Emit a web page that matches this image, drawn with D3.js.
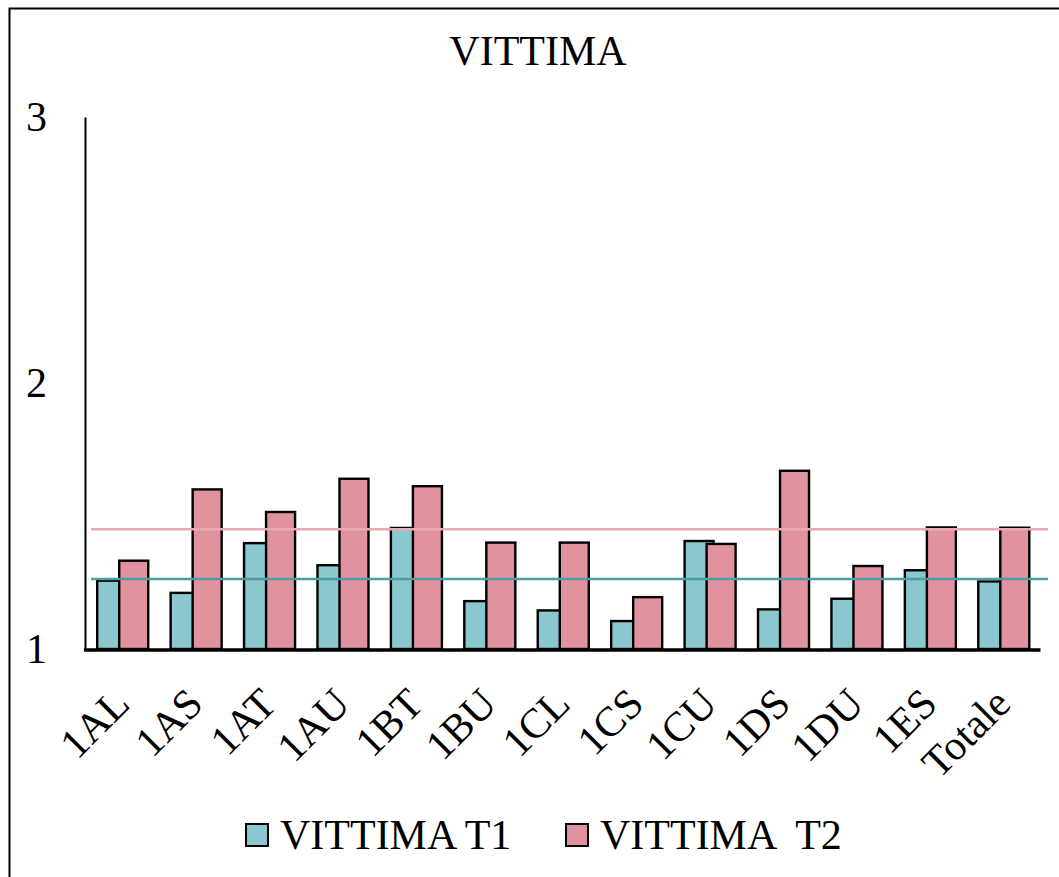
<!DOCTYPE html>
<html>
<head>
<meta charset="utf-8">
<script src="https://cdn.jsdelivr.net/npm/d3@7"></script>
<style>
  html, body { margin: 0; padding: 0; background: #fff; }
  svg { display: block; }
  text { font-family: "Liberation Serif", "Times New Roman", serif; fill: #000; }
</style>
</head>
<body>
<script>
// ---- data ----
const categories = ["1AL","1AS","1AT","1AU","1BT","1BU","1CL","1CS","1CU","1DS","1DU","1ES","Totale"];
const seriesT1 = [1.257,1.211,1.398,1.315,1.455,1.180,1.145,1.105,1.406,1.149,1.189,1.296,1.254];
const seriesT2 = [1.332,1.600,1.515,1.640,1.612,1.400,1.400,1.195,1.395,1.670,1.312,1.457,1.456];
const averages = [1.263, 1.450];           // reference lines for T1, T2
const yTicks = [1, 2, 3];
const seriesNames = ["VITTIMA T1", "VITTIMA  T2"];
const title = "VITTIMA";

// ---- layout ----
const W = 1059, H = 877;
const plot = { left: 86, right: 1040.5, top: 117, bottom: 649 };
const colors = ["#8BC7CE", "#E0939E"];
const lineColors = ["#4E9DA3", "#E9AAB5"];

const svg = d3.select("body").append("svg").attr("width", W).attr("height", H);

// frame
svg.append("rect").attr("x", 9.5).attr("y", 8.5).attr("width", W + 20).attr("height", H + 20)
  .attr("fill", "none").attr("stroke", "#000").attr("stroke-width", 2);

const x = d3.scaleBand().domain(categories).range([plot.left, plot.right]).paddingInner(0).paddingOuter(0);
const y = d3.scaleLinear().domain([1, 3]).range([plot.bottom, plot.top]);

const step = x.bandwidth();
const barW = step * 0.395;      // ~29px
const shift = step * 0.30;      // ~22px offset for overlapping second bar
const groupW = shift + barW;
const off = (step - groupW) / 2;

// title
svg.append("text").attr("x", 538).attr("y", 65).attr("text-anchor", "middle")
  .attr("font-size", 42).text(title);

// bars: T1 first, T2 overlapping on top
[seriesT1, seriesT2].forEach((vals, si) => {
  svg.append("g").selectAll("rect").data(categories).join("rect")
    .attr("x", c => x(c) + off + si * shift)
    .attr("y", (c, i) => y(vals[i]))
    .attr("width", barW)
    .attr("height", (c, i) => y(1) - y(vals[i]))
    .attr("fill", colors[si])
    .attr("stroke", "#000")
    .attr("stroke-width", 2.4);
});

// average lines
averages.forEach((v, i) => {
  svg.append("line").attr("x1", 91).attr("x2", 1048)
    .attr("y1", y(v)).attr("y2", y(v))
    .attr("stroke", lineColors[i]).attr("stroke-width", 2.5);
});

// y axis
const yAxis = d3.axisLeft(y).tickValues(yTicks).tickSize(0).tickPadding(38).tickFormat(d3.format("d"));
const gy = svg.append("g").attr("transform", `translate(${plot.left - 1},0)`).call(yAxis);
gy.select(".domain").attr("stroke", "#000").attr("stroke-width", 2);
gy.selectAll("text").attr("font-size", 42)
  .attr("font-family", '"Liberation Serif", "Times New Roman", serif')
  .attr("dy", "0.33em");

// x axis
const xAxis = d3.axisBottom(x).tickSize(0).tickPadding(0);
const gx = svg.append("g").attr("transform", `translate(0,${plot.bottom + 1})`).call(xAxis);
gx.select(".domain").attr("stroke", "#000").attr("stroke-width", 3.5)
  .attr("d", `M${plot.left - 2},0H${plot.right}`);
gx.selectAll(".tick text")
  .attr("font-size", 42)
  .attr("font-family", '"Liberation Serif", "Times New Roman", serif')
  .attr("text-anchor", "end")
  .attr("dy", 0)
  .attr("y", 0)
  .attr("transform", "translate(9,56) rotate(-45)");

// legend
const legX = [246, 566], textX = [280, 600];
seriesNames.forEach((n, i) => {
  svg.append("rect").attr("x", legX[i]).attr("y", 824).attr("width", 22).attr("height", 22)
    .attr("fill", colors[i]).attr("stroke", "#000").attr("stroke-width", 2);
  svg.append("text").attr("x", textX[i]).attr("y", 849).attr("font-size", 42)
    .attr("xml:space", "preserve").style("white-space", "pre").text(n);
});
</script>
</body>
</html>
